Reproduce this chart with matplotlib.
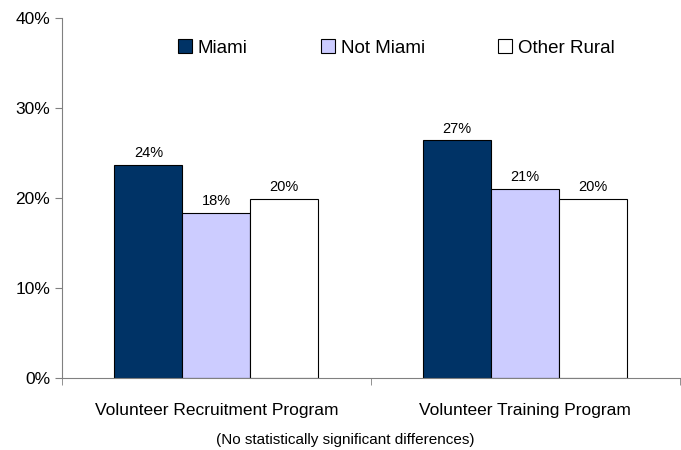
import numpy as np
from matplotlib import pyplot as plt
from matplotlib.ticker import PercentFormatter

plt.rcParams['font.family'] = ['Liberation Sans', 'DejaVu Sans']

programs = ["Volunteer Recruitment Program", "Volunteer Training Program"]
series = ["Miami", "Not Miami", "Other Rural"]
miami = [23.7, 26.4]
not_miami = [18.3, 21.0]
other_rural = [19.9, 19.9]
labels = [["24%", "27%"], ["18%", "21%"], ["20%", "20%"]]
colors = ["#003366", "#CCCCFF", "#FFFFFF"]

fig = plt.figure(figsize=(6.81, 4.5), dpi=100)
ax = fig.add_axes([0.091, 0.16, 0.907, 0.80])

x = np.arange(len(programs))
width = 0.22
for i, (vals, name) in enumerate(zip([miami, not_miami, other_rural], series)):
    bars = ax.bar(x + (i - 1) * width, vals, width, color=colors[i],
                  edgecolor="black", linewidth=0.8, label=name)
    for b, lab in zip(bars, labels[i]):
        ax.annotate(lab, (b.get_x() + b.get_width() / 2, b.get_height()),
                    xytext=(0, 3.5), textcoords="offset points",
                    ha="center", va="bottom", fontsize=10.5)

ax.set_xlim(-0.5, 1.5)
ax.set_ylim(0, 40)
ax.set_yticks([0, 10, 20, 30, 40])
ax.yaxis.set_major_formatter(PercentFormatter(decimals=0))
ax.tick_params(axis="y", labelsize=12.5, length=5, direction="out", color="#808080")

ax.set_xticks(x)
ax.set_xticklabels(programs, fontsize=12.5)
ax.tick_params(axis="x", which="major", length=0, pad=18)
ax.set_xticks([-0.5, 0.5, 1.5], minor=True)
ax.tick_params(axis="x", which="minor", length=5, direction="out", color="#808080")

for s in ["top", "right"]:
    ax.spines[s].set_visible(False)
ax.spines["left"].set_color("#808080")
ax.spines["bottom"].set_color("#808080")

ax.legend(ncol=3, loc="center", bbox_to_anchor=(0.582, 0.893),
          bbox_transform=fig.transFigure, frameon=False, fontsize=13.5,
          handlelength=0.75, handleheight=0.75, handletextpad=0.3,
          columnspacing=3.9)

fig.text(0.507, 0.022, "(No statistically significant differences)",
         ha="center", va="center", fontsize=11)

plt.savefig("out.png", dpi=100)
